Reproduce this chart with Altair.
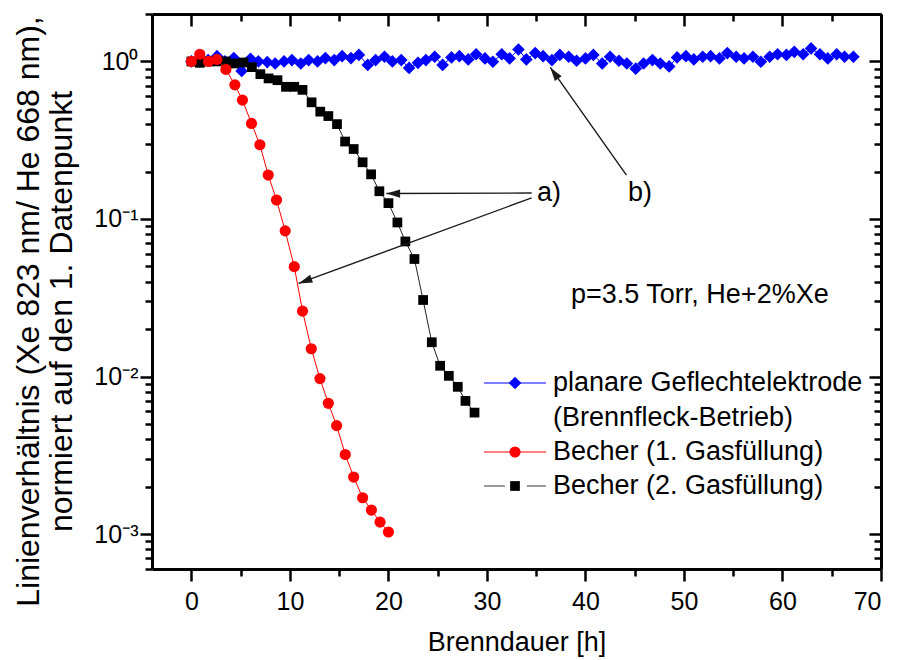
import altair as alt
import pandas as pd

# ---------------- data ----------------
series_names = [
    "planare Geflechtelektrode (Brennfleck-Betrieb)",
    "Becher (1. Gasfüllung)",
    "Becher (2. Gasfüllung)",
]

blue_x = [0, 0.85, 1.7, 2.6, 3.4, 4.3, 5.1, 6.0, 6.8, 7.7, 8.5, 9.4, 10.2, 11.1, 11.9,
          12.8, 13.6, 14.5, 15.3, 16.2, 17.0, 17.9, 18.7, 19.6, 20.4, 21.3, 22.1, 23.0,
          23.8, 24.7, 25.5, 26.4, 27.2, 28.1, 28.9, 29.8, 30.6, 31.5, 32.3, 33.2, 34.0,
          34.9, 35.7, 36.6, 37.4, 38.3, 39.1, 40.0, 40.8, 41.7, 42.5, 43.4, 44.2, 45.1,
          45.9, 46.8, 47.6, 48.5, 49.3, 50.2, 51.0, 51.9, 52.7, 53.6, 54.4, 55.3, 56.1,
          57.0, 57.8, 58.7, 59.5, 60.4, 61.2, 62.1, 62.9, 63.8, 64.6, 65.5, 66.3, 67.2]
blue_y = [1.0, 1.0, 1.02, 1.08, 1.0, 1.05, 0.87, 1.04, 1.0, 0.99, 0.97, 1.0, 1.02, 0.97,
          1.02, 1.0, 1.05, 1.02, 1.08, 1.05, 1.10, 0.95, 1.02, 1.07, 1.0, 1.02, 0.91,
          0.98, 1.02, 1.07, 0.95, 1.06, 1.08, 1.03, 1.11, 1.045, 0.995, 1.11, 1.045, 1.19,
          1.03, 1.13, 1.08, 1.02, 1.10, 1.07, 1.01, 1.045, 1.10, 0.97, 1.07, 1.01, 0.97,
          0.90, 0.97, 1.02, 0.97, 0.93, 1.06, 1.08, 1.03, 1.07, 1.08, 1.045, 1.13, 1.07,
          1.045, 1.07, 0.995, 1.07, 1.11, 1.10, 1.15, 1.11, 1.21, 1.11, 1.045, 1.11, 1.07,
          1.07]

red_x = [0, 0.85, 1.73, 2.58, 3.5, 4.41, 5.18, 6.1, 6.95, 7.8, 8.64, 9.52, 10.44, 11.28,
         12.17, 13.05, 13.9, 14.74, 15.62, 16.47, 17.38, 18.27, 19.15, 20.0]
red_y = [1.0, 1.11, 1.0, 1.03, 0.89, 0.71, 0.568, 0.404, 0.296, 0.19, 0.132, 0.084, 0.0498,
         0.026, 0.015, 0.0097, 0.00676, 0.00488, 0.0032, 0.0023, 0.0017, 0.00142, 0.00119,
         0.00103]

black_x = [0, 0.85, 1.73, 2.58, 3.5, 4.34, 5.29, 6.14, 7.0, 7.83, 8.74, 9.6, 10.44, 11.28,
           12.2, 13.08, 13.9, 14.78, 15.6, 16.47, 17.38, 18.24, 19.08, 20.0, 20.91, 21.72,
           22.64, 23.52, 24.4, 25.25, 26.13, 27.04, 27.82, 28.74]
black_y = [1.0, 0.98, 1.0, 1.0, 1.0, 0.97, 0.985, 0.92, 0.83, 0.78, 0.76, 0.69, 0.69, 0.66,
           0.55, 0.48, 0.45, 0.40, 0.31, 0.278, 0.229, 0.192, 0.150, 0.126, 0.095, 0.072,
           0.0557, 0.0306, 0.0165, 0.0117, 0.0101, 0.0086, 0.0070, 0.0059]

# annotation arrows (data units): start -> tip
arrow_x1 = [34.54, 34.54, 44.16]
arrow_y1 = [0.146, 0.136, 0.19]
arrow_x2 = [19.79, 10.88, 36.43]
arrow_y2 = [0.145, 0.039, 0.916]
arrow_angle = [270, 249.9, 324.8]

x_major = [0, 10, 20, 30, 40, 50, 60, 70]
x_minor = [5, 15, 25, 35, 45, 55, 65]
y_major = [0.001, 0.01, 0.1, 1.0]
y_minor = [m * 10.0 ** e for e in (-4, -3, -2, -1, 0) for m in range(2, 10)
           if 6e-4 - 1e-12 <= m * 10.0 ** e <= 2.0 + 1e-9]

y_title = ["Linienverhältnis (Xe 823 nm/ He 668 nm),", "normiert auf den 1. Datenpunkt"]
x_title = "Brenndauer [h]"

# ---------------- styling ----------------
FONT = "Liberation Sans"
BLUE, RED, BLACK = "#0000FF", "#FF0000", "#000000"
W, H = 729, 555
PAD = {"left": 152, "top": 14, "right": 16, "bottom": 91}

X_SCALE = alt.Scale(domain=[-4, 70], nice=False, zero=False)
Y_SCALE = alt.Scale(type="log", domain=[6e-4, 2], nice=False)


def ax(**kw):
    base = dict(grid=False, domain=False, tickColor="black", tickWidth=2.5,
                labelColor="black", labelFont=FONT, titleFont=FONT,
                titleColor="black", titleFontWeight="normal")
    base.update(kw)
    return alt.Axis(**base)


FRAME = dict(domain=True, domainColor="black", domainWidth=3)

x_bottom_major = ax(orient="bottom", values=x_major, tickSize=12, labelFontSize=25,
                    labelPadding=8, title=x_title, titleFontSize=27, titleY=81,
                    titleBaseline="alphabetic", **FRAME)
x_bottom_minor = ax(orient="bottom", values=x_minor, tickSize=7, labels=False, title=None)
x_top_major = ax(orient="top", values=x_major, tickSize=12, offset=-12, labels=False, title=None)
x_top_minor = ax(orient="top", values=x_minor, tickSize=7, offset=-7, labels=False, title=None)
x_top_frame = ax(orient="top", ticks=False, labels=False, title=None, **FRAME)

label_expr = ("datum.value > 0.5 ? '10\u2070' : datum.value > 0.05 ? '10\u207b\u00b9' : "
              "datum.value > 0.005 ? '10\u207b\u00b2' : '10\u207b\u00b3'")
y_left_major = ax(orient="left", values=y_major, labelExpr=label_expr, tickSize=12,
                  labelFontSize=25, labelPadding=2, title=y_title, titleFontSize=32,
                  titleX=-114, titleY=297, titleBaseline="alphabetic", titleLineHeight=33,
                  titleAngle=270, titleAlign="center", **FRAME)
y_left_minor = ax(orient="left", values=y_minor, tickSize=7, labels=False, title=None)
y_right_major = ax(orient="right", values=y_major, tickSize=12, offset=-12, labels=False, title=None)
y_right_minor = ax(orient="right", values=y_minor, tickSize=7, offset=-7, labels=False, title=None)
y_right_frame = ax(orient="right", ticks=False, labels=False, title=None, **FRAME)

df_blue = pd.DataFrame({"x": blue_x, "y": blue_y, "series": series_names[0]})
df_red = pd.DataFrame({"x": red_x, "y": red_y, "series": series_names[1]})
df_black = pd.DataFrame({"x": black_x, "y": black_y, "series": series_names[2]})


def enc(chart, xaxis=None, yaxis=None):
    return chart.encode(
        x=alt.X("x:Q", scale=X_SCALE, axis=xaxis),
        y=alt.Y("y:Q", scale=Y_SCALE, axis=yaxis),
        order="x:Q",
    )


BLUE_SIZE, RED_SIZE, BLACK_SIZE = 160, 125, 95

layers = []
layers.append(enc(alt.Chart(df_blue).mark_line(color=BLUE, strokeWidth=1),
                  x_bottom_major, y_left_major))
layers.append(enc(alt.Chart(df_blue).mark_point(shape="diamond", filled=True, size=BLUE_SIZE,
                                                color=BLUE, opacity=1),
                  x_bottom_minor, y_left_minor))
layers.append(enc(alt.Chart(df_black).mark_line(color="#222222", strokeWidth=1),
                  x_top_major, y_right_major))
layers.append(enc(alt.Chart(df_black).mark_point(shape="square", filled=True, size=BLACK_SIZE,
                                                 color=BLACK, opacity=1),
                  x_top_minor, y_right_minor))
layers.append(enc(alt.Chart(df_red).mark_line(color=RED, strokeWidth=1),
                  x_top_frame, y_right_frame))
layers.append(enc(alt.Chart(df_red).mark_point(shape="circle", filled=True, size=RED_SIZE,
                                               color=RED, opacity=1)))

# arrows
df_arrows = pd.DataFrame({"x": arrow_x1, "y": arrow_y1, "x2": arrow_x2, "y2": arrow_y2,
                          "ang": arrow_angle})
ARROW_COLOR = "#1a1a1a"
layers.append(alt.Chart(df_arrows).mark_rule(color=ARROW_COLOR, strokeWidth=1.4).encode(
    x=alt.X("x:Q", scale=X_SCALE, axis=None),
    y=alt.Y("y:Q", scale=Y_SCALE, axis=None),
    x2="x2:Q", y2="y2:Q"))
ARROW_PATH = "M0,0L-0.3,1L0.3,1Z"
for i in range(len(df_arrows)):
    layers.append(alt.Chart(df_arrows.iloc[[i]]).mark_point(
        shape=ARROW_PATH, filled=True, size=760, color=ARROW_COLOR, opacity=1,
        angle=float(df_arrows["ang"].iloc[i])).encode(
        x=alt.X("x2:Q", scale=X_SCALE, axis=None),
        y=alt.Y("y2:Q", scale=Y_SCALE, axis=None)))


def text_layer(txt, px, py, size=27, align="left"):
    return alt.Chart(pd.DataFrame({"t": [txt]})).mark_text(
        align=align, baseline="middle", font=FONT, fontSize=size, color="black"
    ).encode(x=alt.value(px - PAD["left"]), y=alt.value(py - PAD["top"]), text="t:N")


layers.append(text_layer("a)", 537, 193))
layers.append(text_layer("b)", 628, 193))
layers.append(text_layer("p=3.5 Torr, He+2%Xe", 571, 295))

# legend (drawn in the plot area like the reference)
leg_rows = [
    (BLUE, "diamond", BLUE_SIZE, 383,
     [series_names[0].split(" (")[0], "(" + series_names[0].split(" (")[1]], False),
    (RED, "circle", RED_SIZE, 452, [series_names[1]], False),
    (BLACK, "square", BLACK_SIZE, 486, [series_names[2]], True),
]
one = pd.DataFrame({"k": [0]})
for color, shape, size, py, labels, gap in leg_rows:
    yy = alt.value(py - PAD["top"])
    line_color = "#555555" if gap else color
    segs = [(484, 505), (527, 546)] if gap else [(484, 546)]
    for a, b in segs:
        layers.append(alt.Chart(one).mark_rule(color=line_color, strokeWidth=1.2).encode(
            x=alt.value(a - PAD["left"]), x2=alt.value(b - PAD["left"]), y=yy))
    layers.append(alt.Chart(one).mark_point(shape=shape, filled=True, size=size,
                                            color=color, opacity=1).encode(
        x=alt.value(515 - PAD["left"]), y=yy))
    for j, lab in enumerate(labels):
        layers.append(text_layer(lab, 553, py + 35 * j))

chart = alt.layer(*layers).resolve_axis(x="independent", y="independent").properties(
    width=W, height=H, padding=PAD, autosize=alt.AutoSizeParams(type="none")
).configure_view(stroke="black", strokeWidth=3).configure(background="white")

chart.save("out.html", embed_options={"renderer": "svg", "actions": False})
